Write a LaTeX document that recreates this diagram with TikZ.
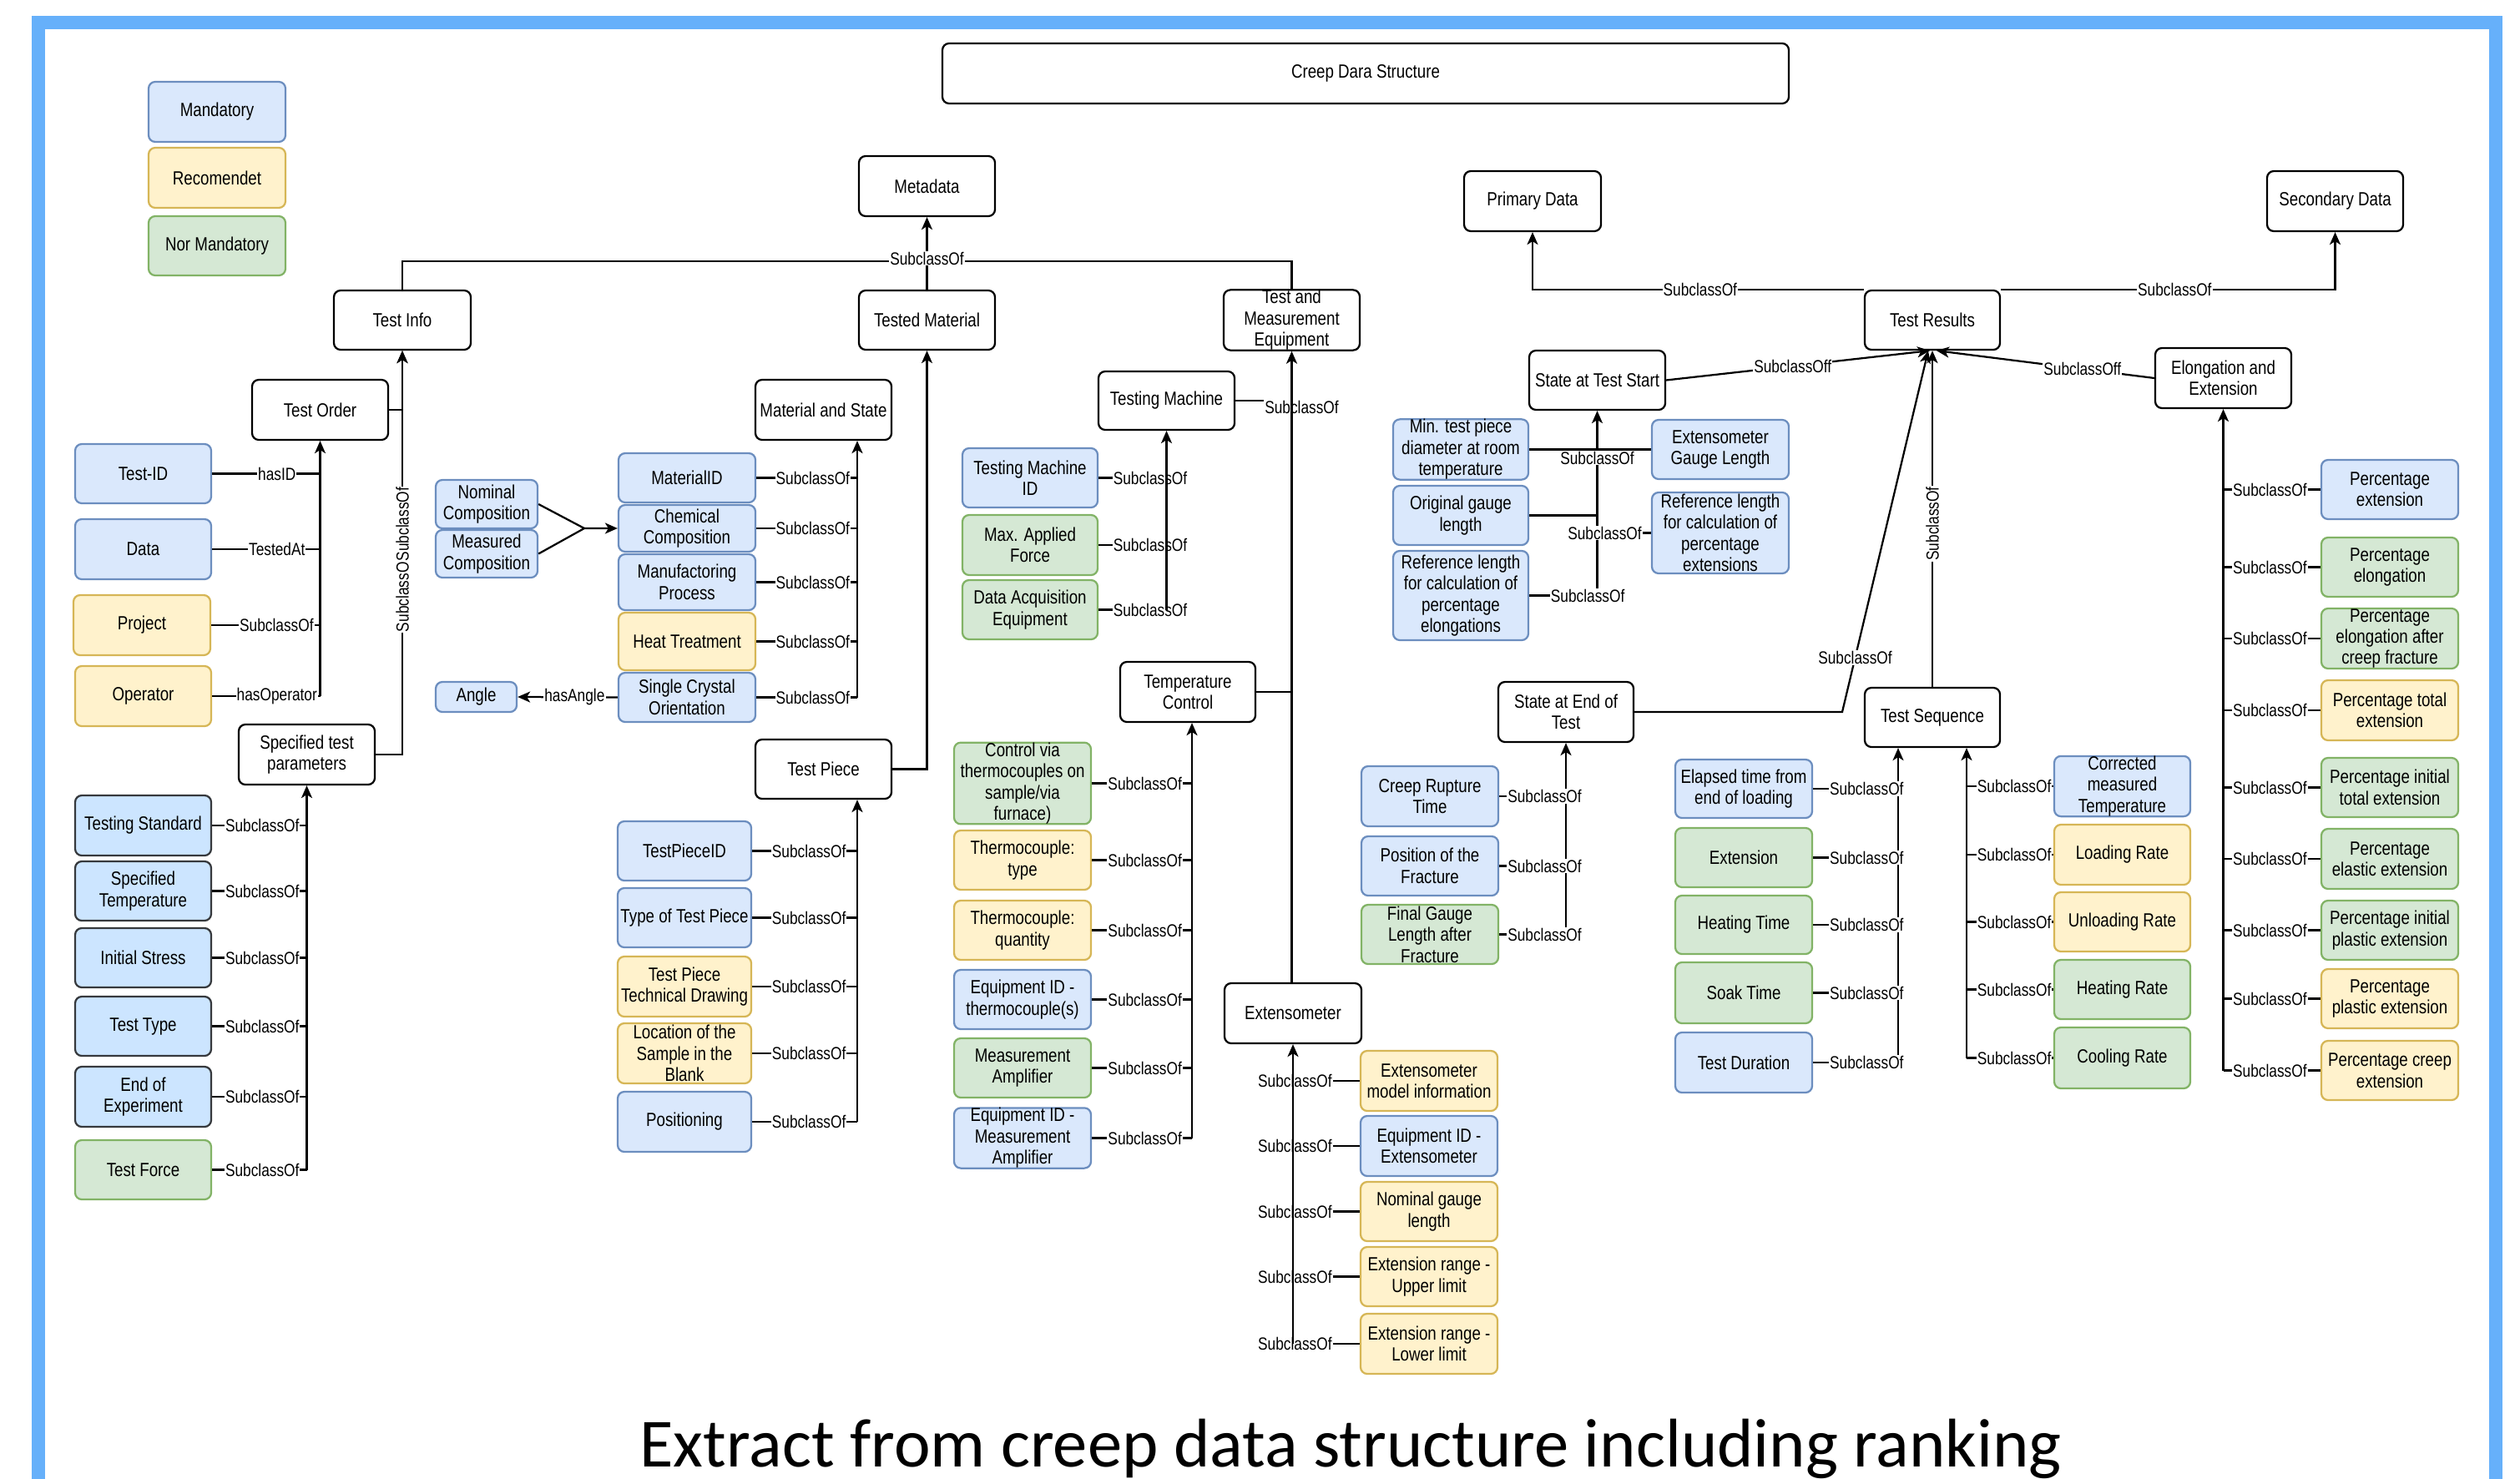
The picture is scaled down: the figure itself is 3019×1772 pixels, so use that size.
\documentclass[tikz,border=0pt]{standalone}
\usepackage{fontspec}
\setmainfont{Liberation Sans}[FakeStretch=0.82]
\newfontfamily\titlefont{Carlito}
\usetikzlibrary{arrows.meta}

\definecolor{frameblue}{HTML}{66B0FA}
\definecolor{mandfill}{HTML}{DAE8FC}
\definecolor{mandline}{HTML}{6C8EBF}
\definecolor{darkfill}{HTML}{CCE5FF}
\definecolor{darkline}{HTML}{36393D}
\definecolor{recfill}{HTML}{FFF2CC}
\definecolor{recline}{HTML}{D6B656}
\definecolor{nmfill}{HTML}{D5E8D4}
\definecolor{nmline}{HTML}{82B366}

\tikzset{
  boxbase/.style={rounded corners=1.6mm, line width=0.45mm, align=center,
    inner sep=0pt, font=\fontsize{13}{14.5}\selectfont, text=black},
  plain/.style={boxbase, draw=black, fill=white},
  mand/.style={boxbase, draw=mandline, fill=mandfill},
  manddark/.style={boxbase, draw=darkline, fill=darkfill},
  rec/.style={boxbase, draw=recline, fill=recfill},
  nman/.style={boxbase, draw=nmline, fill=nmfill},
  ln/.style={line width=0.45mm, draw=black},
  arr/.style={ln, -{Stealth[length=3mm,width=2.6mm,inset=0.8mm]}},
  lbl/.style={font=\fontsize{12}{13}\selectfont, fill=white, inner sep=0.6pt, text=black},
}

% box: name, style, x1, y1, x2, y2, text  (pixel grid, y downwards)
\newcommand\ndbox[7]{%
  \node[#2, minimum width={(#5-#3)*0.2mm}, minimum height={(#6-#4)*0.2mm}]
    (#1) at ({(#3+#5)/2},{(#4+#6)/2}) {#7};}

\begin{document}
\begin{tikzpicture}[x=0.2mm,y=-0.2mm]
\useasboundingbox (0,0) rectangle (3019,1772);
\fill[white] (0,0) rectangle (3019,1772);

% slide frame
\draw[frameblue, line width=3.2mm] (46,1800) -- (46,27) -- (2990,27) -- (2990,1800);

% legend
\ndbox{lgM}{mand}{178}{98}{342}{170}{Mandatory}
\ndbox{lgR}{rec}{178}{177}{342}{249}{Recomendet}
\ndbox{lgN}{nman}{178}{259}{342}{330}{Nor Mandatory}

% top level
\ndbox{head}{plain}{1129}{52}{2143}{124}{Creep Dara Structure}
\ndbox{md}{plain}{1029}{187}{1192}{259}{Metadata}
\ndbox{ti}{plain}{400}{348}{564}{419}{Test Info}
\ndbox{tm}{plain}{1029}{348}{1192}{419}{Tested Material}
\ndbox{tme}{plain}{1466}{348}{1629}{419}{Test and\\Measurement\\Equipment}

% test info branch
\ndbox{tord}{plain}{302}{455}{465}{527}{Test Order}
\ndbox{tid}{mand}{90}{532}{253}{603}{Test-ID}
\ndbox{dat}{mand}{90}{622}{253}{694}{Data}
\ndbox{prj}{rec}{88}{713}{252}{785}{Project}
\ndbox{opr}{rec}{90}{798}{253}{870}{Operator}
\ndbox{sp}{plain}{286}{868}{449}{940}{Specified test\\parameters}
\ndbox{tstd}{manddark}{90}{953}{253}{1025}{Testing Standard}
\ndbox{stemp}{manddark}{90}{1032}{253}{1103}{Specified\\Temperature}
\ndbox{istr}{manddark}{90}{1112}{253}{1183}{Initial Stress}
\ndbox{ttype}{manddark}{90}{1194}{253}{1265}{Test Type}
\ndbox{eoe}{manddark}{90}{1278}{253}{1350}{End of\\Experiment}
\ndbox{tf}{nman}{90}{1366}{253}{1437}{Test Force}

% tested material branch
\ndbox{nom}{mand}{522}{575}{644}{633}{Nominal\\Composition}
\ndbox{meas}{mand}{522}{635}{644}{692}{Measured\\Composition}
\ndbox{ang}{mand}{522}{817}{619}{853}{Angle}
\ndbox{ms}{plain}{905}{455}{1068}{527}{Material and State}
\ndbox{mid}{mand}{741}{543}{905}{602}{MaterialID}
\ndbox{chem}{mand}{741}{605}{905}{661}{Chemical\\Composition}
\ndbox{manu}{mand}{741}{664}{905}{731}{Manufactoring\\Process}
\ndbox{heat}{rec}{741}{734}{905}{803}{Heat Treatment}
\ndbox{sco}{mand}{741}{806}{905}{865}{Single Crystal\\Orientation}
\ndbox{tp}{plain}{905}{886}{1068}{957}{Test Piece}
\ndbox{tpid}{mand}{740}{984}{900}{1055}{TestPieceID}
\ndbox{ttp}{mand}{740}{1064}{900}{1135}{Type of Test Piece}
\ndbox{tptd}{rec}{740}{1146}{900}{1218}{Test Piece\\Technical Drawing}
\ndbox{loc}{rec}{740}{1226}{900}{1298}{Location of the\\Sample in the\\Blank}
\ndbox{posi}{mand}{740}{1308}{900}{1380}{Positioning}

% equipment branch
\ndbox{tmach}{plain}{1316}{445}{1479}{515}{Testing Machine}
\ndbox{tmid}{mand}{1153}{537}{1315}{608}{Testing Machine\\ID}
\ndbox{maf}{nman}{1153}{617}{1315}{689}{Max. Applied\\Force}
\ndbox{daq}{nman}{1153}{695}{1315}{766}{Data Acquisition\\Equipment}
\ndbox{tc}{plain}{1342}{793}{1504}{865}{Temperature\\Control}
\ndbox{cvt}{nman}{1143}{891}{1307}{986}{Control via\\thermocouples on\\sample/via\\furnace)}
\ndbox{tct}{rec}{1143}{995}{1307}{1066}{Thermocouple:\\type}
\ndbox{tcq}{rec}{1143}{1079}{1307}{1150}{Thermocouple:\\quantity}
\ndbox{eidt}{mand}{1143}{1162}{1307}{1233}{Equipment ID -\\thermocouple(s)}
\ndbox{mamp}{nman}{1143}{1244}{1307}{1315}{Measurement\\Amplifier}
\ndbox{eidm}{mand}{1143}{1328}{1307}{1399}{Equipment ID -\\Measurement\\Amplifier}
\ndbox{ext}{plain}{1467}{1178}{1631}{1250}{Extensometer}
\ndbox{emi}{rec}{1630}{1259}{1794}{1331}{Extensometer\\model information}
\ndbox{eide}{mand}{1630}{1337}{1794}{1409}{Equipment ID -\\Extensometer}
\ndbox{ngl}{rec}{1630}{1416}{1794}{1487}{Nominal gauge\\length}
\ndbox{eru}{rec}{1630}{1494}{1794}{1565}{Extension range -\\Upper limit}
\ndbox{erl}{rec}{1630}{1574}{1794}{1646}{Extension range -\\Lower limit}

% primary / secondary data
\ndbox{pd}{plain}{1754}{205}{1918}{277}{Primary Data}
\ndbox{sd}{plain}{2716}{205}{2879}{277}{Secondary Data}
\ndbox{tr}{plain}{2234}{348}{2396}{419}{Test Results}
\ndbox{sts}{plain}{1832}{420}{1995}{491}{State at Test Start}
\ndbox{mtp}{mand}{1669}{503}{1831}{574}{Min. test piece\\diameter at room\\temperature}
\ndbox{egl}{mand}{1979}{503}{2143}{574}{Extensometer\\Gauge Length}
\ndbox{ogl}{mand}{1669}{582}{1831}{653}{Original gauge\\length}
\ndbox{rle}{mand}{1979}{590}{2143}{687}{Reference length\\for calculation of\\percentage\\extensions}
\ndbox{rlel}{mand}{1669}{660}{1831}{767}{Reference length\\for calculation of\\percentage\\elongations}
\ndbox{se}{plain}{1795}{817}{1957}{889}{State at End of\\Test}
\ndbox{crt}{mand}{1631}{918}{1795}{990}{Creep Rupture\\Time}
\ndbox{pof}{mand}{1631}{1002}{1795}{1073}{Position of the\\Fracture}
\ndbox{fgl}{nman}{1631}{1084}{1795}{1155}{Final Gauge\\Length after\\Fracture}
\ndbox{ts}{plain}{2234}{824}{2396}{895}{Test Sequence}
\ndbox{etl}{mand}{2007}{910}{2171}{980}{Elapsed time from\\end of loading}
\ndbox{extn}{nman}{2007}{992}{2171}{1063}{Extension}
\ndbox{htt}{nman}{2007}{1073}{2171}{1143}{Heating Time}
\ndbox{skt}{nman}{2007}{1153}{2171}{1226}{Soak Time}
\ndbox{tdur}{mand}{2007}{1237}{2171}{1309}{Test Duration}
\ndbox{cmt}{mand}{2461}{906}{2624}{978}{Corrected\\measured\\Temperature}
\ndbox{lr}{rec}{2461}{988}{2624}{1060}{Loading Rate}
\ndbox{ulr}{rec}{2461}{1069}{2624}{1140}{Unloading Rate}
\ndbox{hr}{nman}{2461}{1150}{2624}{1221}{Heating Rate}
\ndbox{cr}{nman}{2461}{1231}{2624}{1304}{Cooling Rate}
\ndbox{ee}{plain}{2582}{417}{2745}{489}{Elongation and\\Extension}
\ndbox{pe}{mand}{2781}{551}{2945}{622}{Percentage\\extension}
\ndbox{pel}{nman}{2781}{644}{2945}{715}{Percentage\\elongation}
\ndbox{pea}{nman}{2781}{729}{2945}{801}{Percentage\\elongation after\\creep fracture}
\ndbox{pte}{rec}{2781}{815}{2945}{887}{Percentage total\\extension}
\ndbox{pite}{nman}{2781}{908}{2945}{979}{Percentage initial\\total extension}
\ndbox{pee}{nman}{2781}{993}{2945}{1065}{Percentage\\elastic extension}
\ndbox{pipe}{nman}{2781}{1079}{2945}{1150}{Percentage initial\\plastic extension}
\ndbox{ppe}{rec}{2781}{1161}{2945}{1232}{Percentage\\plastic extension}
\ndbox{pce}{rec}{2781}{1247}{2945}{1318}{Percentage creep\\extension}

% bus lines and junction points
\coordinate (mdj) at (1110.5,313);
\coordinate (bM) at (1027,0);
\coordinate (bTC) at (1428,0);
\coordinate (bTSl) at (2274,0);
\coordinate (bTSr) at (2356,0);
\coordinate (cj) at (700,633);
\coordinate (sej) at (2207,853);

% metadata level
\draw[ln] (ti.north) |- (mdj) -| (tme.north);
\draw[arr] (tm.north) -- node[lbl,pos=0.43]{SubclassOf} (md.south);

% test info
\draw[arr] (tord.east) -- (tord.east -| ti.south) -- (ti.south);
\draw[arr] (sp.east) -- (sp.east -| ti.south) --
  node[lbl,rotate=90,pos=0.395]{SubclassOf}
  node[lbl,rotate=90,pos=0.57]{SubclassOf} (ti.south);

\draw[arr] (opr.east -| tord.south) -- (tord.south);
\foreach \nm/\lab in {tid/hasID, dat/TestedAt, prj/SubclassOf, opr/hasOperator}
  \draw[ln] (\nm.east) -- node[lbl,pos=.6]{\lab} (\nm.east -| tord.south);

\draw[arr] (tf.east -| sp.south) -- (sp.south);
\foreach \nm in {tstd,stemp,istr,ttype,eoe,tf}
  \draw[ln] (\nm.east) -- node[lbl,pos=.53]{SubclassOf} (\nm.east -| sp.south);

% tested material
\draw[arr] (sco.east -| bM) -- (bM |- ms.south);
\foreach \nm in {mid,chem,manu,heat,sco}
  \draw[ln] (\nm.east) -- node[lbl,pos=.56]{SubclassOf} (\nm.east -| bM);
\draw[ln] (nom.east) -- (cj);
\draw[arr] (meas.east) -- (cj) -- (chem.west);
\draw[arr] (sco.west) -- node[lbl,pos=.43]{hasAngle} (ang.east);

\draw[arr] (tp.east) -| (tm.south);
\draw[arr] (posi.east -| bM) -- (bM |- tp.south);
\foreach \nm in {tpid,ttp,tptd,loc,posi}
  \draw[ln] (\nm.east) -- node[lbl,pos=.54]{SubclassOf} (\nm.east -| bM);

% test and measurement equipment
\draw[ln] (tmach.east) -- (tmach.east -| tme.south)
  node[lbl,xshift=2.4mm,yshift=-1.6mm]{SubclassOf};
\draw[ln] (tc.east) -- (tc.east -| tme.south);
\draw[arr] (tme.south |- ext.north) -- (tme.south);

\foreach \nm in {tmid,maf,daq}
  \draw[ln] (\nm.east) -- node[lbl,pos=.76]{SubclassOf} (\nm.east -| tmach.south);
\draw[arr] (daq.east -| tmach.south) -- (tmach.south);

\draw[arr] (eidm.east -| bTC) -- (bTC |- tc.south);
\foreach \nm in {cvt,tct,tcq,eidt,mamp,eidm}
  \draw[ln] (\nm.east) -- node[lbl,pos=.53]{SubclassOf} (\nm.east -| bTC);

\foreach \nm in {emi,eide,ngl,eru,erl}
  \draw[ln] (\nm.west) -- node[lbl,pos=.97]{SubclassOf} (\nm.west -| ext.south);
\draw[arr] (erl.west -| ext.south) -- (ext.south);

% test results
\draw[arr] (tr.north west) -| node[lbl,pos=.247]{SubclassOf} (pd.south);
\draw[arr] (tr.north east) -| node[lbl,pos=.26]{SubclassOf} (sd.south);
\draw[arr] (sts.east) -- node[lbl,pos=.48]{SubclassOff} ([xshift=-0.6mm]tr.south);
\draw[arr] (ee.west) -- node[lbl,pos=.33]{SubclassOff} ([xshift=1mm]tr.south);
\draw[arr] (se.east) -- (sej) -- node[lbl,pos=.15]{SubclassOf} ([xshift=-1mm]tr.south);
\draw[arr] (ts.north) -- node[lbl,rotate=90,pos=.485]{SubclassOf} (tr.south);

% state at test start
\draw[arr] (rlel.east -| sts.south) -- (sts.south);
\draw[ln] (egl.west) -- (egl.west -| sts.south);
\draw[ln] (ogl.east) -- (ogl.east -| sts.south);
\draw[ln] (mtp.east) -- (mtp.east -| sts.south) node[lbl,yshift=-2mm]{SubclassOf};
\draw[ln] (rle.west) -- node[lbl,pos=.86]{SubclassOf} (rle.west -| sts.south);
\draw[ln] (rlel.east) -- node[lbl,pos=.86]{SubclassOf} (rlel.east -| sts.south);

% state at end of test
\draw[arr] (fgl.east -| se.south) -- (se.south);
\foreach \nm in {crt,pof,fgl}
  \draw[ln] (\nm.east) -- node[lbl,pos=.68]{SubclassOf} (\nm.east -| se.south);

% test sequence
\draw[arr] (tdur.east -| bTSl) -- (bTSl |- ts.south);
\draw[arr] (cr.west -| bTSr) -- (bTSr |- ts.south);
\foreach \nm in {etl,extn,htt,skt,tdur}
  \draw[ln] (\nm.east) -- node[lbl,pos=.63]{SubclassOf} (\nm.east -| bTSl);
\foreach \nm in {cmt,lr,ulr,hr,cr}
  \draw[ln] (\nm.west) -- node[lbl,pos=.45]{SubclassOf} (\nm.west -| bTSr);

% elongation and extension
\draw[arr] (pce.west -| ee.south) -- (ee.south);
\foreach \nm in {pe,pel,pea,pte,pite,pee,pipe,ppe,pce}
  \draw[ln] (\nm.west) -- node[lbl,pos=.52]{SubclassOf} (\nm.west -| ee.south);

% caption
\node[anchor=base, font=\titlefont\fontsize{47}{50}\selectfont] (caption) at (1618,1757)
  {Extract from creep data structure including ranking};
\end{tikzpicture}
\end{document}
